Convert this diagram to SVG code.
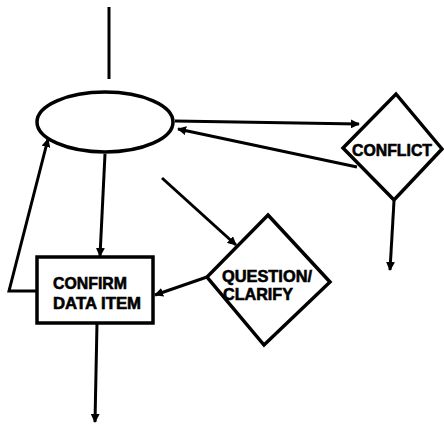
<svg xmlns="http://www.w3.org/2000/svg" width="444" height="429" viewBox="0 0 444 429">
  <style>
    .shape { fill: none; stroke: #000; stroke-width: 3.5; }
    .box { fill: #fff; stroke: #000; stroke-width: 3.5; }
    .link { fill: none; stroke: #000; stroke-width: 3; }
    .arrow { marker-end: url(#head); }
    .label { font-family: "Liberation Sans", Arial, sans-serif; font-weight: bold; font-size: 17px; fill: #000; stroke: #000; stroke-width: 0.6; }
  </style>
  <defs>
    <marker id="head" viewBox="0 0 10 10" refX="9" refY="5" markerWidth="3" markerHeight="3" orient="auto" markerUnits="strokeWidth">
      <path d="M0,0 L10,5 L0,10 z" fill="#000"/>
    </marker>
  </defs>
  <rect width="444" height="429" fill="#fff"/>

  <g id="connectors">
    <!-- entry from above -->
    <line class="link" x1="109" y1="7" x2="109" y2="79"/>
    <!-- hub to conflict and back -->
    <line class="link arrow" x1="175" y1="121" x2="359" y2="124"/>
    <line class="link arrow" x1="357" y1="167" x2="178" y2="129"/>
    <!-- conflict exit -->
    <line class="link arrow" x1="394" y1="201" x2="390" y2="270"/>
    <!-- hub to confirm -->
    <line class="link arrow" x1="105" y1="154" x2="100" y2="256"/>
    <!-- confirm loop back to hub -->
    <polyline class="link arrow" points="37,291 9,291 48,139"/>
    <!-- into question/clarify -->
    <line class="link arrow" x1="162" y1="178" x2="236" y2="245"/>
    <!-- question/clarify to confirm -->
    <line class="link arrow" x1="207" y1="277" x2="155" y2="295"/>
    <!-- confirm exit -->
    <line class="link arrow" x1="97" y1="323" x2="95" y2="422"/>
  </g>

  <g id="hub">
    <ellipse class="shape" cx="105" cy="122" rx="68" ry="30"/>
  </g>

  <g id="conflict">
    <polygon class="box" points="396,94 442,149 394,200 343,148"/>
    <text class="label" x="352" y="156" textLength="80" lengthAdjust="spacingAndGlyphs">CONFLICT</text>
  </g>

  <g id="confirm">
    <rect class="box" x="37" y="257" width="116" height="66"/>
    <text class="label" x="53" y="289" textLength="74" lengthAdjust="spacingAndGlyphs">CONFIRM</text>
    <text class="label" x="53" y="309" textLength="88" lengthAdjust="spacingAndGlyphs">DATA ITEM</text>
  </g>

  <g id="question">
    <polygon class="box" points="268,215 330,282 264,345 207,277"/>
    <text class="label" x="222" y="282" textLength="90" lengthAdjust="spacingAndGlyphs">QUESTION/</text>
    <text class="label" x="223" y="300" textLength="70" lengthAdjust="spacingAndGlyphs">CLARIFY</text>
  </g>
</svg>
